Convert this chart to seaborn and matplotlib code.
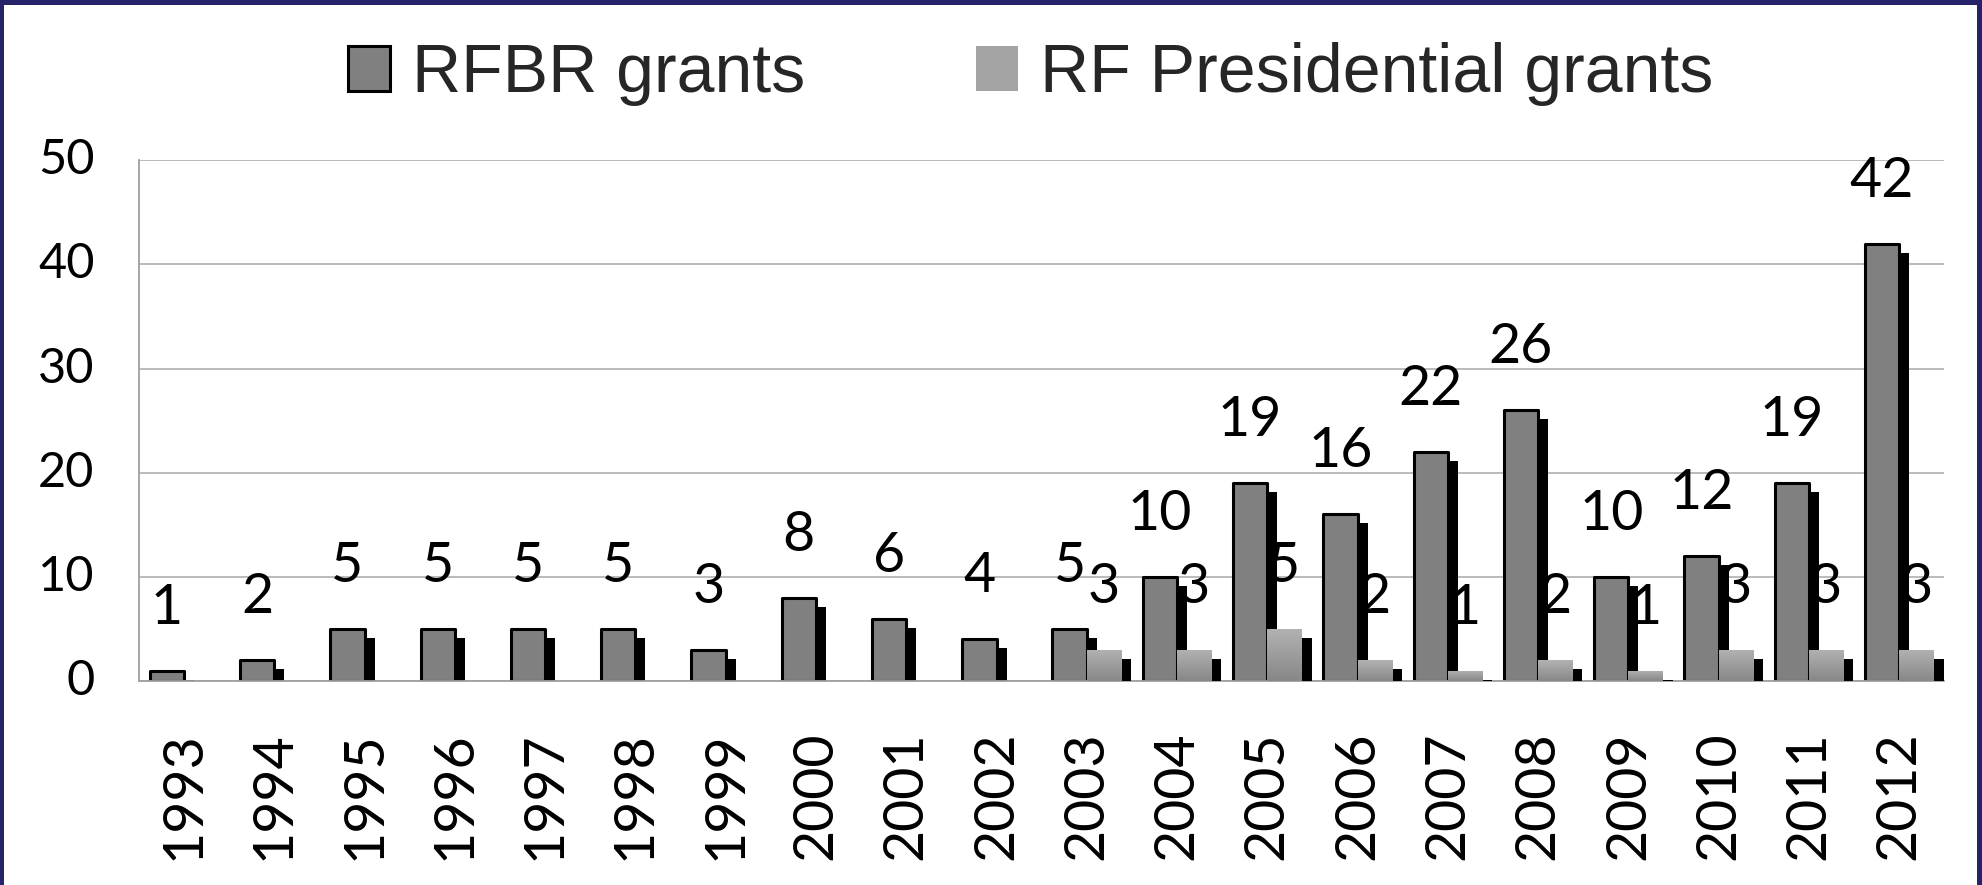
import numpy as np
import pandas as pd
import matplotlib
matplotlib.use("Agg")
import matplotlib.pyplot as plt
import matplotlib.patheffects as pe
from matplotlib.patches import Rectangle
import seaborn as sns

# Chart data
years = [str(y) for y in range(1993, 2013)]
rfbr_grants = [1, 2, 5, 5, 5, 5, 3, 8, 6, 4, 5, 10, 19, 16, 22, 26, 10, 12, 19, 42]
pres_grants = [0, 0, 0, 0, 0, 0, 0, 0, 0, 0, 3, 3, 5, 2, 1, 2, 1, 3, 3, 3]
series_names = ["RFBR grants", "RF Presidential grants"]

sns.set_theme(style="white")
plt.rcParams["font.family"] = ["Lato", "DejaVu Sans"]

df = pd.DataFrame({
    "year": years * 2,
    "count": rfbr_grants + pres_grants,
    "series": [series_names[0]] * len(years) + [series_names[1]] * len(years),
})

fig = plt.figure(figsize=(19.82, 8.85), dpi=100, facecolor="white")
ax = fig.add_axes([0.0701, 0.2305, 0.9109, 0.5885])

sns.barplot(data=df, x="year", y="count", hue="series", order=years,
            hue_order=series_names, palette=["#808080", "#a0a0a0"],
            width=0.76, errorbar=None, ax=ax, legend=False)

shadow = [pe.SimplePatchShadow(offset=(7.2, -6.5), shadow_rgbFace="black", alpha=1.0),
          pe.Normal()]

rfbr_bars, pres_bars = ax.containers[0], ax.containers[1]
for p in rfbr_bars:
    p.set_edgecolor("black")
    p.set_linewidth(2.2)
    p.set_joinstyle("round")
    p.set_zorder(2)
    p.set_path_effects(shadow)

# gradient fill for the presidential bars (light top, darker bottom)
grad = np.linspace(0.70, 0.53, 64).reshape(-1, 1)
grad_rgb = np.dstack([grad, grad, grad])
for p in pres_bars:
    p.set_edgecolor("none")
    p.set_zorder(3)
    p.set_path_effects(shadow)
    h = p.get_height()
    if h > 0:
        x0 = p.get_x()
        im = ax.imshow(grad_rgb, extent=[x0, x0 + p.get_width(), 0, h],
                       aspect="auto", zorder=3.5, interpolation="bilinear")
        im.set_clip_path(p)

# value labels above bars
for cont, vals in [(rfbr_bars, rfbr_grants), (pres_bars, pres_grants)]:
    for p, v in zip(cont, vals):
        if v == 0:
            continue
        ax.annotate(str(v), (p.get_x() + p.get_width() / 2, p.get_height()),
                    xytext=(0, 45), textcoords="offset points",
                    ha="center", va="center", fontsize=40, color="black", zorder=5)

ax.set_xlim(-0.5, len(years) - 0.5)
ax.set_ylim(0, 50)
ax.set_yticks([0, 10, 20, 30, 40, 50])
ax.yaxis.grid(True, color="#b5b5b5", linewidth=1.3)
ax.set_axisbelow(True)
ax.set_xlabel("")
ax.set_ylabel("")
ax.tick_params(axis="y", labelsize=35, pad=32, length=0, labelcolor="black")
ax.tick_params(axis="x", labelsize=40, pad=36, length=0, labelcolor="black",
               labelrotation=90)
for lbl in ax.get_yticklabels():
    lbl.set_verticalalignment("center")
    lbl.set_y(lbl.get_position()[1])
for s in ["top", "right"]:
    ax.spines[s].set_visible(False)
for s in ["left", "bottom"]:
    ax.spines[s].set_color("#a0a0a0")
    ax.spines[s].set_linewidth(1.3)

# legend
handles = [Rectangle((0, 0), 1, 1, facecolor="#808080", edgecolor="black", linewidth=2.2),
           Rectangle((0, 0), 1, 1, facecolor="#a4a4a4", edgecolor="none")]
fig.legend(handles, series_names, loc="center", bbox_to_anchor=(0.52, 0.916),
           ncol=2, frameon=False, handlelength=0.62, handleheight=0.65,
           handletextpad=0.33, columnspacing=2.5,
           prop={"family": "Liberation Sans", "size": 49})

# dark frame around the slide
frame_col = "#27236b"
fig.patches.append(Rectangle((0, 1 - 5 / 885), 1, 5 / 885, transform=fig.transFigure,
                             facecolor=frame_col, edgecolor="none", zorder=10))
fig.patches.append(Rectangle((0, 0), 4 / 1982, 1, transform=fig.transFigure,
                             facecolor=frame_col, edgecolor="none", zorder=10))
fig.patches.append(Rectangle((1 - 5 / 1982, 0), 5 / 1982, 1, transform=fig.transFigure,
                             facecolor=frame_col, edgecolor="none", zorder=10))

fig.savefig("out.png", dpi=100, facecolor="white")
